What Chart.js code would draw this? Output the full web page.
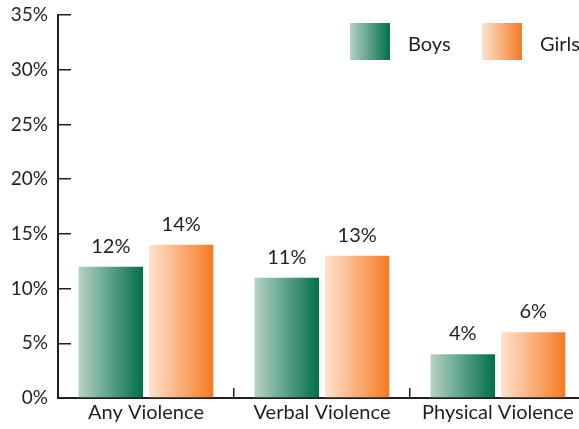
<!DOCTYPE html>
<html>
<head>
<meta charset="utf-8">
<script src="https://cdn.jsdelivr.net/npm/chart.js@4"></script>
<style>
  html, body { margin: 0; padding: 0; background: #fff; overflow: hidden; }
  canvas { display: block; }
</style>
</head>
<body>
<canvas id="violence-chart" width="590" height="429"></canvas>
<script>
// Share of students reporting violence, by type and gender
const categories = ['Any Violence', 'Verbal Violence', 'Physical Violence'];
const boysValues = [12, 11, 4];
const girlsValues = [14, 13, 6];
const yTicks = [0, 5, 10, 15, 20, 25, 30, 35];

const TEXT = '#231f20';
const FONT = 'Lato, "Open Sans", sans-serif';

// left-to-right colour ramps for each series
const ramps = {
  Boys: ['#b5d2c5', '#006f48'],
  Girls: ['#fee3d0', '#f47b22']
};

const hGradient = (ctx, x0, x1, stops) => {
  const g = ctx.createLinearGradient(x0, 0, x1, 0);
  g.addColorStop(0, stops[0]);
  g.addColorStop(1, stops[1]);
  return g;
};

// give every bar its own horizontal gradient once it is positioned
const barGradients = {
  id: 'barGradients',
  beforeDatasetsDraw(chart) {
    chart.data.datasets.forEach((ds, i) => {
      chart.getDatasetMeta(i).data.forEach(bar => {
        const half = bar.width / 2;
        bar.options.backgroundColor = hGradient(chart.ctx, bar.x - half, bar.x + half, ramps[ds.label]);
      });
    });
  }
};

// percentage labels over the bars
const valueLabels = {
  id: 'valueLabels',
  afterDatasetsDraw(chart) {
    const ctx = chart.ctx;
    ctx.save();
    ctx.font = '20px ' + FONT;
    ctx.fillStyle = TEXT;
    ctx.textAlign = 'center';
    ctx.textBaseline = 'alphabetic';
    chart.data.datasets.forEach((ds, i) => {
      chart.getDatasetMeta(i).data.forEach((bar, j) => {
        ctx.fillText(ds.data[j] + '%', bar.x, bar.y - 14);
      });
    });
    ctx.restore();
  }
};

// legend with gradient swatches in the top right corner
const swatchLegend = {
  id: 'swatchLegend',
  afterDraw(chart) {
    const ctx = chart.ctx;
    const spots = [350, 482];
    ctx.save();
    ctx.font = '20px ' + FONT;
    ctx.textBaseline = 'middle';
    chart.data.datasets.forEach((ds, i) => {
      const x = spots[i];
      ctx.fillStyle = hGradient(ctx, x, x + 40, ramps[ds.label]);
      ctx.fillRect(x, 23, 40, 37);
      ctx.fillStyle = TEXT;
      ctx.fillText(ds.label, x + 58, 45);
    });
    ctx.restore();
  }
};

new Chart(document.getElementById('violence-chart'), {
  type: 'bar',
  data: {
    labels: categories,
    datasets: [
      { label: 'Boys', data: boysValues, backgroundColor: () => ramps.Boys[1] },
      { label: 'Girls', data: girlsValues, backgroundColor: () => ramps.Girls[1] }
    ]
  },
  options: {
    responsive: false,
    animation: false,
    layout: { padding: { top: 15, right: 4, left: 0, bottom: 0 } },
    categoryPercentage: 0.8,
    barPercentage: 0.915,
    borderWidth: 0,
    plugins: {
      legend: { display: false },
      tooltip: { enabled: false }
    },
    scales: {
      x: {
        grid: { drawOnChartArea: false, tickLength: -10, color: TEXT, lineWidth: 1.5 },
        border: { display: true, color: TEXT, width: 2 },
        ticks: { color: TEXT, font: { family: FONT, size: 20 }, padding: 13 },
        afterFit: scale => {
          scale.height = 31;
          scale.paddingLeft = 0;
          scale.paddingRight = 0;
        }
      },
      y: {
        min: 0,
        max: 35,
        afterBuildTicks: scale => { scale.ticks = yTicks.map(v => ({ value: v })); },
        grid: { drawOnChartArea: false, tickLength: -13, color: TEXT, lineWidth: 1.5 },
        border: { display: true, color: TEXT, width: 2 },
        ticks: { color: TEXT, font: { family: FONT, size: 19 }, padding: 23, callback: v => v + '%' },
        afterFit: scale => {
          scale.width = 58;
          scale.paddingTop = 0;
          scale.paddingBottom = 0;
        }
      }
    }
  },
  plugins: [barGradients, valueLabels, swatchLegend]
});
</script>
</body>
</html>
